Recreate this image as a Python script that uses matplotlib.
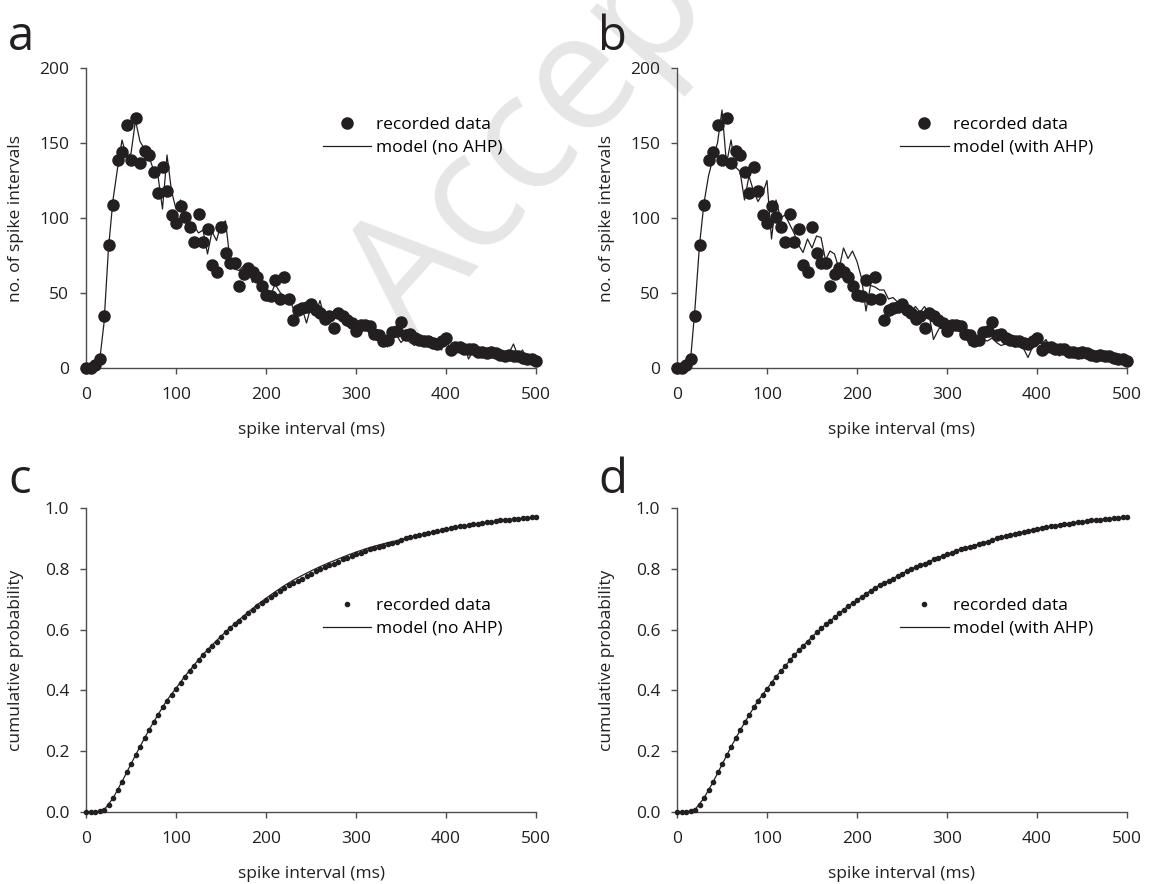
import numpy as np
import matplotlib
matplotlib.use("Agg")
import matplotlib.pyplot as plt

plt.rcParams['font.family'] = ['Open Sans', 'DejaVu Sans']

# spike interval bins (ms)
intervals = np.arange(0, 501, 5)
intervals_cum_model = np.arange(0, 501, 10)

# recorded interval histogram (same recording in a and b)
recorded_counts = [
    0, 0, 2, 6, 35, 82, 109, 139, 144, 162,
    139, 167, 137, 145, 142, 131, 117, 134, 118, 102,
    97, 108, 101, 94, 84, 103, 84, 93, 69, 64,
    94, 77, 70, 70, 55, 63, 67, 64, 61, 55,
    49, 48, 59, 46, 61, 46, 32, 39, 40, 41,
    43, 39, 37, 33, 35, 27, 37, 35, 32, 30,
    25, 29, 29, 28, 23, 22, 18, 19, 24, 25,
    31, 22, 23, 20, 19, 18, 18, 17, 16, 18,
    20, 12, 14, 14, 13, 13, 13, 11, 11, 10,
    11, 10, 9, 8, 9, 8, 8, 7, 6, 6,
    5,
]

# model histogram, no AHP
model_no_ahp = [
    0, 0, 1, 4, 30, 80, 112, 133, 152, 141,
    143, 165, 151, 146, 141, 132, 128, 106, 142, 118,
    106, 112, 100, 92, 95, 90, 92, 76, 91, 85,
    96, 98, 72, 66, 65, 68, 66, 57, 62, 55,
    52, 48, 56, 51, 47, 48, 40, 42, 40, 30,
    41, 36, 45, 33, 37, 32, 35, 33, 29, 31,
    27, 28, 30, 22, 25, 20, 23, 14, 20, 22,
    17, 20, 17, 15, 19, 16, 14, 15, 16, 12,
    20, 11, 14, 12, 16, 6, 11, 12, 10, 11,
    12, 9, 10, 8, 10, 16, 8, 12, 6, 7,
    5,
]

# model histogram, with AHP
model_with_ahp = [
    0, 0, 1, 5, 40, 82, 110, 128, 140, 150,
    172, 136, 152, 134, 131, 112, 128, 118, 111, 116,
    125, 86, 112, 100, 102, 96, 90, 82, 77, 86,
    80, 88, 87, 72, 78, 76, 66, 80, 73, 78,
    71, 60, 38, 55, 54, 52, 52, 46, 47, 44,
    43, 40, 38, 41, 37, 41, 36, 19, 25, 30,
    29, 27, 28, 25, 22, 15, 22, 20, 19, 18,
    20, 17, 15, 16, 17, 14, 15, 13, 7, 14,
    23, 16, 19, 12, 10, 8, 12, 11, 10, 9,
    6, 10, 9, 7, 8, 7, 6, 7, 5, 6,
    5,
]

# cumulative probability, recorded data
recorded_cum = [
    0.000, 0.000, 0.000, 0.002, 0.008, 0.024, 0.045, 0.072, 0.099, 0.130,
    0.157, 0.189, 0.215, 0.243, 0.270, 0.296, 0.318, 0.344, 0.366, 0.386,
    0.405, 0.425, 0.445, 0.463, 0.479, 0.499, 0.515, 0.533, 0.546, 0.558,
    0.576, 0.591, 0.604, 0.618, 0.628, 0.640, 0.653, 0.666, 0.677, 0.688,
    0.697, 0.706, 0.718, 0.727, 0.738, 0.747, 0.753, 0.761, 0.768, 0.776,
    0.784, 0.792, 0.799, 0.805, 0.812, 0.817, 0.824, 0.831, 0.837, 0.843,
    0.848, 0.853, 0.859, 0.864, 0.869, 0.873, 0.876, 0.880, 0.885, 0.889,
    0.895, 0.900, 0.904, 0.908, 0.912, 0.915, 0.918, 0.922, 0.925, 0.928,
    0.932, 0.934, 0.937, 0.940, 0.942, 0.945, 0.947, 0.949, 0.951, 0.953,
    0.955, 0.957, 0.959, 0.961, 0.962, 0.964, 0.965, 0.967, 0.968, 0.969,
    0.970,
]

# cumulative probability, models (10 ms steps)
cum_no_ahp = [
    0.000, 0.000, 0.007, 0.045, 0.100, 0.158, 0.215, 0.270, 0.320, 0.368,
    0.407, 0.447, 0.483, 0.518, 0.549, 0.578, 0.606, 0.632, 0.657, 0.681,
    0.703, 0.724, 0.744, 0.762, 0.778, 0.793, 0.807, 0.820, 0.832, 0.844,
    0.855, 0.865, 0.874, 0.882, 0.889, 0.896, 0.904, 0.911, 0.917, 0.923,
    0.929, 0.935, 0.940, 0.945, 0.950, 0.954, 0.958, 0.962, 0.965, 0.968,
    0.970,
]
cum_with_ahp = [
    0.000, 0.000, 0.008, 0.046, 0.098, 0.156, 0.214, 0.268, 0.318, 0.366,
    0.405, 0.445, 0.479, 0.515, 0.546, 0.576, 0.604, 0.628, 0.653, 0.677,
    0.697, 0.718, 0.738, 0.753, 0.768, 0.784, 0.799, 0.812, 0.824, 0.837,
    0.848, 0.859, 0.869, 0.876, 0.885, 0.895, 0.904, 0.912, 0.918, 0.925,
    0.932, 0.937, 0.942, 0.947, 0.951, 0.955, 0.959, 0.962, 0.965, 0.968,
    0.970,
]

INK = '#231f20'
AXC = '#4d4d4d'
W, H = 1149, 884

fig = plt.figure(figsize=(W / 100, H / 100), dpi=100)

# faint watermark behind everything (runs off the top edge, as in the original)
fig.text(410 / W, 1 - 342 / H, 'Accepted', fontsize=118, color='#e6e6e6',
         rotation=48, rotation_mode='anchor', ha='left', va='baseline', zorder=-5)


def add_axes(left_px, top_px, height_px):
    ax = fig.add_axes([left_px / W, 1 - (top_px + height_px) / H, 450 / W, height_px / H])
    ax.patch.set_alpha(0)
    for s in ('top', 'right'):
        ax.spines[s].set_visible(False)
    for s in ('left', 'bottom'):
        ax.spines[s].set_color(AXC)
        ax.spines[s].set_linewidth(1.0)
    ax.tick_params(direction='out', length=4, width=1.0, color=AXC,
                   labelsize=12.5, labelcolor=INK)
    ax.tick_params(axis='x', pad=10)
    ax.tick_params(axis='y', pad=8)
    ax.set_xlim(0, 500)
    ax.set_xticks([0, 100, 200, 300, 400, 500])
    ax.set_xlabel('spike interval (ms)', fontsize=12.5, color=INK, labelpad=13)
    return ax


def legend(ax, anchor_y):
    h, l = ax.get_legend_handles_labels()
    ax.legend(h[::-1], l[::-1], loc='center right', bbox_to_anchor=(0.925, anchor_y),
              frameon=False, fontsize=12.5, handlelength=2.8, handletextpad=0.25,
              labelspacing=0.35, borderaxespad=0, borderpad=0)


def hist_panel(ax, model, label):
    ax.plot(intervals, model, color=INK, lw=0.9, label=label, clip_on=False, zorder=3)
    ax.plot(intervals, recorded_counts, 'o', color=INK, ms=8, label='recorded data',
            clip_on=False, zorder=4)
    ax.set_ylim(0, 200)
    ax.set_yticks([0, 50, 100, 150, 200])
    ax.set_ylabel('no. of spike intervals', fontsize=12.5, color=INK)
    ax.yaxis.set_label_coords(-0.138, 0.5)
    legend(ax, 0.772)


def cum_panel(ax, model, label):
    ax.plot(intervals_cum_model, model, color=INK, lw=0.9, label=label, clip_on=False, zorder=3)
    ax.plot(intervals, recorded_cum, 'o', color=INK, ms=3, label='recorded data',
            clip_on=False, zorder=4)
    ax.set_ylim(0, 1.0)
    ax.set_yticks([0.0, 0.2, 0.4, 0.6, 0.8, 1.0])
    ax.set_yticklabels(['0.0', '0.2', '0.4', '0.6', '0.8', '1.0'])
    ax.set_ylabel('cumulative probability', fontsize=12.5, color=INK)
    ax.yaxis.set_label_coords(-0.138, 0.5)
    legend(ax, 0.64)


ax_a = add_axes(86, 68, 300)
hist_panel(ax_a, model_no_ahp, 'model (no AHP)')
ax_b = add_axes(677, 68, 300)
hist_panel(ax_b, model_with_ahp, 'model (with AHP)')
ax_c = add_axes(86, 508, 304)
cum_panel(ax_c, cum_no_ahp, 'model (no AHP)')
ax_d = add_axes(677, 508, 304)
cum_panel(ax_d, cum_with_ahp, 'model (with AHP)')

for letter, x, y in [('a', 8, 50), ('b', 598, 50), ('c', 8, 493), ('d', 598, 493)]:
    fig.text(x / W, 1 - y / H, letter, fontsize=34, color=INK, ha='left', va='baseline')

fig.savefig('out.png', dpi=100)
